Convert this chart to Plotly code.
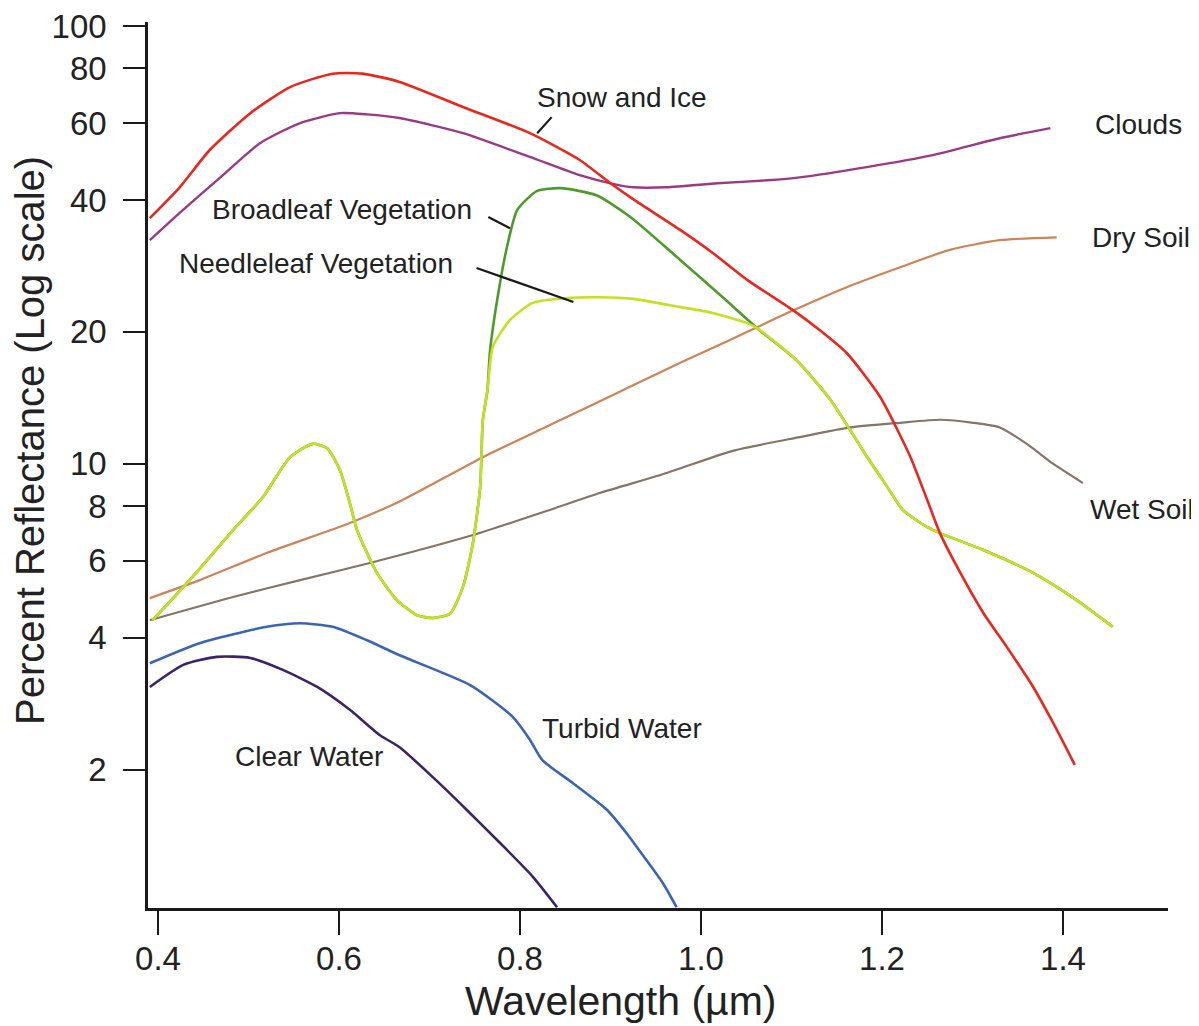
import numpy as np
import plotly.graph_objects as go

# ---------------- data (wavelength in µm, reflectance in %) ----------------
snow_x = [0.391, 0.424, 0.457, 0.502, 0.546, 0.593, 0.626, 0.667, 0.737, 0.811,
          0.866, 0.900, 0.925, 0.977, 1.013, 1.051, 1.102, 1.131, 1.161, 1.198, 1.231,
          1.250, 1.264, 1.283, 1.312, 1.338, 1.367, 1.389, 1.413]
snow_y = [36.4, 42.8, 52.0, 63.2, 72.5, 77.8, 77.8, 74.5, 65.3, 56.9,
          49.4, 43.7, 40.2, 34.2, 30.3, 26.3, 22.4, 20.2, 17.9, 14.2, 10.4,
          8.26, 6.94, 5.81, 4.56, 3.81, 3.09, 2.56, 2.05]

clouds_x = [0.391, 0.424, 0.469, 0.513, 0.557, 0.601, 0.631, 0.667, 0.737, 0.811, 0.866,
            0.900, 0.925, 0.962, 1.018, 1.073, 1.109, 1.183, 1.256, 1.330, 1.386]
clouds_y = [32.4, 37.4, 45.1, 54.0, 60.0, 63.2, 62.8, 61.6, 56.9, 50.2, 45.6,
            43.7, 42.8, 42.8, 43.7, 44.4, 45.1, 47.6, 50.7, 55.4, 58.4]

veg_shared_x = [0.394, 0.435, 0.483, 0.516, 0.546, 0.571, 0.587, 0.601, 0.612, 0.620,
                0.642, 0.664, 0.686, 0.704, 0.723, 0.737, 0.748, 0.756, 0.759, 0.764]
veg_shared_y = [4.39, 5.42, 7.05, 8.39, 10.35, 11.1, 10.85, 9.67, 8.13, 7.05,
                5.63, 4.88, 4.51, 4.44, 4.55, 5.23, 6.59, 8.84, 12.6, 14.7]

broadleaf_mid_x = [0.767, 0.778, 0.786, 0.797, 0.819, 0.845, 0.885, 0.922, 0.977, 1.024]
broadleaf_mid_y = [18.2, 25.9, 31.5, 38.0, 42.0, 42.6, 41.0, 36.6, 29.2, 24.0]

needleleaf_mid_x = [0.770, 0.789, 0.814, 0.852, 0.888, 0.925, 0.977, 1.013, 1.051]
needleleaf_mid_y = [18.5, 21.3, 23.3, 23.9, 24.0, 23.8, 22.8, 22.1, 20.95]

veg_tail_x = [1.062, 1.106, 1.143, 1.183, 1.206, 1.223, 1.250, 1.264, 1.312, 1.367, 1.415, 1.455]
veg_tail_y = [20.4, 17.2, 14.0, 10.4, 8.84, 7.84, 7.16, 6.94, 6.35, 5.63, 4.88, 4.24]

drysoil_x = [0.391, 0.446, 0.520, 0.612, 0.667, 0.759, 0.833, 0.925, 0.977, 1.035, 1.062,
             1.102, 1.161, 1.220, 1.275, 1.330, 1.393]
drysoil_y = [4.93, 5.42, 6.25, 7.32, 8.2, 10.35, 12.25, 15.1, 17.0, 19.3, 20.5,
             22.4, 25.3, 28.1, 30.8, 32.4, 32.9]

wetsoil_x = [0.391, 0.483, 0.557, 0.634, 0.748, 0.833, 0.888, 0.962, 1.035, 1.109,
             1.165, 1.220, 1.264, 1.301, 1.330, 1.360, 1.389, 1.422]
wetsoil_y = [4.39, 4.96, 5.42, 5.93, 6.87, 7.84, 8.57, 9.52, 10.7, 11.5,
             12.1, 12.4, 12.6, 12.4, 12.1, 11.1, 10.0, 9.03]

turbid_x = [0.391, 0.446, 0.520, 0.557, 0.593, 0.631, 0.667, 0.745, 0.792, 0.811, 0.825,
            0.859, 0.896, 0.918, 0.940, 0.958, 0.973]
turbid_y = [3.50, 3.89, 4.24, 4.32, 4.24, 3.95, 3.65, 3.12, 2.64, 2.34, 2.10,
            1.86, 1.62, 1.43, 1.24, 1.10, 0.97]

clear_x = [0.391, 0.428, 0.465, 0.502, 0.538, 0.576, 0.612, 0.645, 0.667, 0.704, 0.741,
           0.778, 0.814, 0.841]
clear_y = [3.09, 3.47, 3.62, 3.60, 3.38, 3.09, 2.74, 2.40, 2.25, 1.92, 1.62,
           1.36, 1.14, 0.97]

x_ticks = [0.4, 0.6, 0.8, 1.0, 1.2, 1.4]
x_ticktext = ["0.4", "0.6", "0.8", "1.0", "1.2", "1.4"]
y_ticks = [2, 4, 6, 8, 10, 20, 40, 60, 80, 100]
y_ticktext = ["2", "4", "6", "8", "10", "20", "40", "60", "80", "100"]

# label text, anchor (x, reflectance)
labels = [
    ("Snow and Ice", 0.817, 68.8),
    ("Clouds", 1.433, 59.7),
    ("Broadleaf Vegetation", 0.457, 38.0),
    ("Needleleaf Vegetation", 0.421, 28.7),
    ("Dry Soil", 1.430, 32.9),
    ("Wet Soil", 1.428, 7.84),
    ("Turbid Water", 0.822, 2.49),
    ("Clear Water", 0.483, 2.14),
]
# leader lines (x0, y0, x1, y1)
leaders = [
    (0.819, 56.9, 0.835, 61.9),
    (0.765, 36.6, 0.789, 34.5),
    (0.752, 28.0, 0.859, 23.4),
]

# ---------------- figure ----------------
FONT = "Liberation Sans, Arial, Helvetica, sans-serif"
fig = go.Figure()

def add_line(x, y, color, width=2.6):
    fig.add_trace(go.Scatter(x=x, y=y, mode="lines", showlegend=False, hoverinfo="skip",
                             line=dict(color=color, width=width, shape="spline", smoothing=0.6)))

add_line(drysoil_x, drysoil_y, "#cd845a", 2.2)
add_line(wetsoil_x, wetsoil_y, "#857568", 2.2)
add_line(clouds_x, clouds_y, "#9a3a80", 2.4)
add_line(veg_shared_x + broadleaf_mid_x + veg_tail_x, veg_shared_y + broadleaf_mid_y + veg_tail_y,
         "#4f9a2c", 2.6)
add_line(veg_shared_x + needleleaf_mid_x + veg_tail_x, veg_shared_y + needleleaf_mid_y + veg_tail_y,
         "#c4e024", 2.6)
add_line(snow_x, snow_y, "#e8281e", 2.6)
add_line(turbid_x, turbid_y, "#3d63b3", 2.6)
add_line(clear_x, clear_y, "#3a2466", 2.6)

for x0, y0, x1, y1 in leaders:
    fig.add_trace(go.Scatter(x=[x0, x1], y=[y0, y1], mode="lines", showlegend=False,
                             hoverinfo="skip", line=dict(color="#1a1a1a", width=2.2)))

for text, lx, ly in labels:
    fig.add_annotation(x=lx, y=np.log10(ly), text=text, showarrow=False, xanchor="left",
                       yanchor="middle", font=dict(family=FONT, size=28, color="#222222"))

# axis titles (paper coords relative to plot area)
fig.add_annotation(xref="paper", yref="paper", x=(30 - 148) / 1020, y=(908 - 441) / 886,
                   text="Percent Reflectance (Log scale)", textangle=-90, showarrow=False,
                   xanchor="center", yanchor="middle", font=dict(family=FONT, size=40, color="#222222"))
fig.add_annotation(xref="paper", yref="paper", x=(620 - 148) / 1020, y=(908 - 1001) / 886,
                   text="Wavelength (µm)", showarrow=False, xanchor="center", yanchor="middle",
                   font=dict(family=FONT, size=41, color="#222222"))

# page body has an 8px margin, so the figure is sized to fit inside the window
fig.update_layout(
    width=1191, height=1018,
    margin=dict(l=140, r=31, t=14, b=118, autoexpand=False),
    paper_bgcolor="white", plot_bgcolor="white",
    font=dict(family=FONT, color="#222222"),
    xaxis=dict(range=[0.389, 1.516], tickvals=x_ticks, ticktext=x_ticktext, automargin=False,
               showgrid=False, zeroline=False, showline=True, linecolor="#1a1a1a", linewidth=2.5,
               ticks="outside", ticklen=24, tickwidth=2, tickcolor="#1a1a1a",
               tickfont=dict(family=FONT, size=33, color="#222222"), ticklabelstandoff=-4,
               ticklabeloverflow="allow"),
    yaxis=dict(type="log", range=[-0.015, 2.009], tickvals=y_ticks, ticktext=y_ticktext,
               automargin=False,
               showgrid=False, zeroline=False, showline=True, linecolor="#1a1a1a", linewidth=2.5,
               ticks="outside", ticklen=22, tickwidth=2, tickcolor="#1a1a1a",
               tickfont=dict(family=FONT, size=33, color="#222222"), ticklabelstandoff=10,
               ticklabeloverflow="allow"),
)

fig.write_html("out.html")
